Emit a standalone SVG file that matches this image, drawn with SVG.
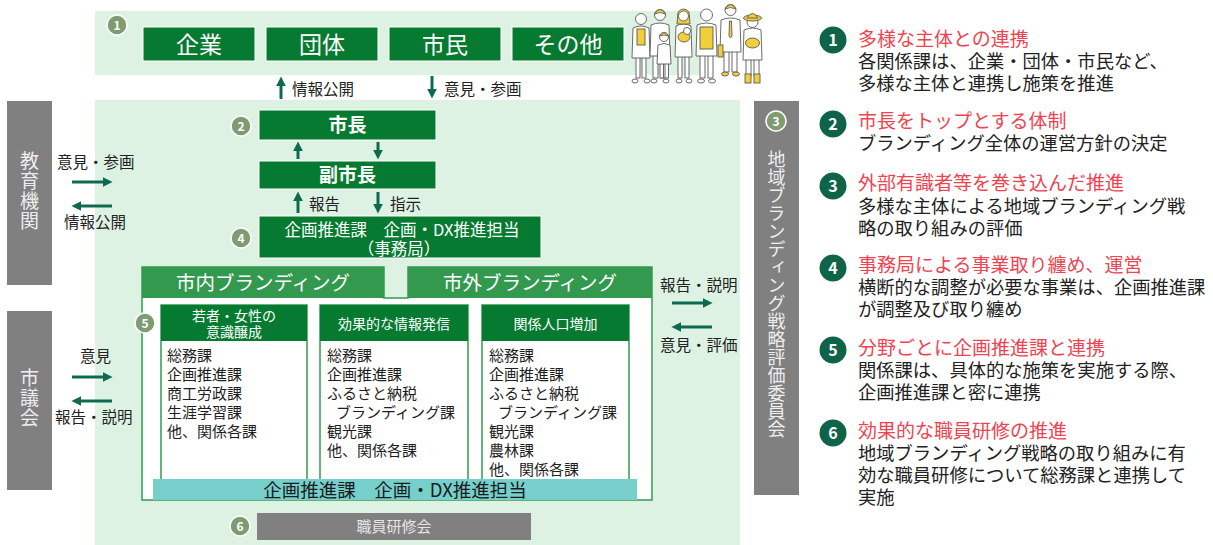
<svg xmlns="http://www.w3.org/2000/svg" width="1213" height="545" viewBox="0 0 1213 545">
  <defs>
    <style>
      text { font-family: "Noto Sans CJK JP", "Noto Sans", sans-serif; }
      .bg { fill: #ddf2e3; }
      .dk { fill: #067a30; stroke: #ffffff; stroke-width: 1; }
      .hd { fill: #33994f; }
      .gray { fill: #808080; }
      .num { fill: #7f9b72; stroke: #ffffff; stroke-width: 1.5; }
      .numt { font-size: 12px; fill: #ffffff; text-anchor: middle; font-weight: 700; }
      .wt { fill: #ffffff; text-anchor: middle; }
      .lbl { fill: #222222; font-size: 15.5px; }
      .vt { fill: #eeeeee; writing-mode: vertical-rl; text-anchor: middle; }
      .col { fill: #ffffff; stroke: #33994f; stroke-width: 1.5; }
      .colh { fill: #067a30; }
      .ct { fill: #1e1e1e; font-size: 15px; }
      .conn { stroke: #0e6a4f; stroke-width: 3; fill: none; marker-end: url(#ah); }
      .rn { fill: #0f6349; }
      .rnt { fill: #ffffff; font-size: 16px; font-weight: 700; text-anchor: middle; }
      .rt { fill: #ef4351; font-size: 19px; }
      .rb { fill: #222222; font-size: 18.3px; }
      .pp { fill: #ffffff; stroke: #5a5a5a; stroke-width: 0.9; }
      .py { fill: #f2cf3a; stroke: #5a5a5a; stroke-width: 0.9; }
    </style>
    <marker id="ah" viewBox="0 0 10 10" refX="0" refY="5" markerWidth="3.2" markerHeight="3.2" orient="auto">
      <path d="M0,0 L10,5 L0,10 z" fill="#0e6a4f"/>
    </marker>
  </defs>

  <rect width="1213" height="545" fill="#ffffff"/>

  <!-- backgrounds -->
  <rect class="bg" x="95" y="11" width="606" height="64"/>
  <rect class="bg" x="95" y="100" width="645" height="445"/>

  <!-- 1: stakeholders -->
  <g id="stakeholders">
    <circle class="num" cx="117" cy="25" r="10"/>
    <text class="numt" x="117" y="29.5">1</text>
    <rect class="dk" x="143" y="27" width="112" height="34"/>
    <text class="wt" x="199" y="53" font-size="23">企業</text>
    <rect class="dk" x="266" y="27" width="112" height="34"/>
    <text class="wt" x="322" y="53" font-size="23">団体</text>
    <rect class="dk" x="389" y="27" width="112" height="34"/>
    <text class="wt" x="445" y="53" font-size="23">市民</text>
    <rect class="dk" x="512" y="27" width="112" height="34"/>
    <text class="wt" x="568" y="53" font-size="23">その他</text>
  </g>

  <!-- citizens illustration -->
  <g id="people">
    <!-- elderly woman -->
    <rect class="pp" x="636" y="56" width="4" height="22"/>
    <rect class="pp" x="642" y="56" width="4" height="22"/>
    <path class="pp" d="M633,28 Q641,24 649,28 L650,58 L632,58 Z"/>
    <rect class="py" x="637" y="29" width="8" height="16"/>
    <circle class="pp" cx="641" cy="19" r="5.5"/>
    <ellipse class="pp" cx="635" cy="81" rx="3" ry="2"/>
    <ellipse class="pp" cx="647" cy="81" rx="3" ry="2"/>
    <!-- father -->
    <rect class="pp" x="653" y="54" width="5" height="24"/>
    <rect class="pp" x="661" y="54" width="5" height="24"/>
    <path class="pp" d="M651,25 Q660,21 669,25 L670,56 L650,56 Z"/>
    <circle class="pp" cx="660" cy="15" r="5.5"/>
    <path class="py" d="M654.5,14 Q660,5 665.5,14 Q660,11 654.5,14 Z"/>
    <ellipse class="pp" cx="654" cy="81" rx="3" ry="2"/>
    <ellipse class="pp" cx="666" cy="81" rx="3" ry="2"/>
    <!-- child -->
    <rect class="pp" x="660" y="62" width="3.5" height="16"/>
    <rect class="pp" x="665" y="62" width="3.5" height="16"/>
    <path class="pp" d="M658,45 Q664,42 670,45 L671,64 L657,64 Z"/>
    <circle class="pp" cx="664" cy="37" r="4.5"/>
    <path class="py" d="M659.5,36 Q664,29 668.5,36 Q664,34 659.5,36 Z"/>
    <!-- mother with baby -->
    <rect class="pp" x="678" y="55" width="4" height="23"/>
    <rect class="pp" x="685" y="55" width="4" height="23"/>
    <path class="pp" d="M676,26 Q683.5,22 691,26 L692,57 L675,57 Z"/>
    <path class="py" d="M678,12 Q683.5,6 689,12 L690,24 L677,24 Z"/>
    <circle class="pp" cx="683.5" cy="16" r="5"/>
    <ellipse class="py" cx="684" cy="37" rx="6" ry="5"/>
    <circle class="pp" cx="687" cy="31" r="3.5"/>
    <ellipse class="pp" cx="679" cy="81" rx="3" ry="2"/>
    <ellipse class="pp" cx="689" cy="81" rx="3" ry="2"/>
    <!-- elderly man -->
    <rect class="pp" x="700" y="54" width="5" height="24"/>
    <rect class="pp" x="708" y="54" width="5" height="24"/>
    <path class="pp" d="M697,25 Q706.5,21 716,25 L717,56 L696,56 Z"/>
    <rect class="py" x="700" y="27" width="13" height="22"/>
    <circle class="pp" cx="706.5" cy="15" r="6"/>
    <ellipse class="pp" cx="701" cy="81" rx="3.5" ry="2"/>
    <ellipse class="pp" cx="712" cy="81" rx="3.5" ry="2"/>
    <!-- office worker -->
    <rect class="pp" x="724" y="50" width="5" height="22"/>
    <rect class="pp" x="732" y="50" width="5" height="22"/>
    <path class="pp" d="M721,20 Q730.5,16 740,20 L741,52 L720,52 Z"/>
    <path class="py" d="M729.5,21 L731.5,21 L732,36 L730.5,38 L729,36 Z"/>
    <rect class="py" x="718" y="45" width="5" height="12"/>
    <circle class="pp" cx="730.5" cy="10" r="5.5"/>
    <path class="py" d="M725,9 Q730.5,0 736,9 Q730.5,6 725,9 Z"/>
    <ellipse class="py" cx="725" cy="74" rx="3.5" ry="2"/>
    <ellipse class="py" cx="736" cy="74" rx="3.5" ry="2"/>
    <!-- farmer -->
    <rect class="pp" x="746" y="58" width="5" height="18"/>
    <rect class="pp" x="754" y="58" width="5" height="18"/>
    <path class="pp" d="M744,30 Q752.5,26 761,30 L762,60 L743,60 Z"/>
    <circle class="pp" cx="752.5" cy="22" r="5.5"/>
    <ellipse class="py" cx="752.5" cy="18" rx="9" ry="3"/>
    <path class="py" d="M747,18 Q752.5,9 758,18 Z"/>
    <ellipse class="py" cx="752.5" cy="43" rx="7" ry="5"/>
    <rect class="py" x="745" y="74" width="6" height="9"/>
    <rect class="py" x="754" y="74" width="6" height="9"/>
  </g>

  <!-- 2: mayor / deputy mayor -->
  <g id="mayor">
    <circle class="num" cx="241" cy="126" r="10"/>
    <text class="numt" x="241" y="130.5">2</text>
    <rect class="dk" x="259" y="110" width="177" height="30"/>
    <text class="wt" x="347.5" y="132" font-size="19" font-weight="700">市長</text>
  </g>
  <g id="deputy-mayor">
    <rect class="dk" x="259" y="161" width="177" height="28"/>
    <text class="wt" x="347.5" y="182" font-size="19" font-weight="700">副市長</text>
  </g>

  <!-- 4: secretariat -->
  <g id="secretariat">
    <circle class="num" cx="241" cy="238" r="10"/>
    <text class="numt" x="241" y="242.5">4</text>
    <rect class="dk" x="259" y="216" width="282" height="42"/>
    <text class="wt" x="402" y="236" font-size="16.5">企画推進課　企画・DX推進担当</text>
    <text class="wt" x="399" y="255" font-size="16.5">（事務局）</text>
  </g>

  <!-- education / council / evaluation committee -->
  <g id="education">
    <rect class="gray" x="7" y="101" width="45" height="184"/>
    <text class="vt" x="29.5" y="191" font-size="19" letter-spacing="1">教育機関</text>
  </g>
  <g id="council">
    <rect class="gray" x="7" y="311" width="45" height="179"/>
    <text class="vt" x="29.5" y="398" font-size="19" letter-spacing="1">市議会</text>
  </g>
  <g id="committee">
    <rect class="gray" x="754" y="101" width="45" height="394"/>
    <circle class="num" cx="776" cy="121" r="10"/>
    <text class="numt" x="776" y="125.5">3</text>
    <text class="vt" x="776.5" y="294" font-size="18">地域ブランディング戦略評価委員会</text>
  </g>

  <!-- 5: branding inside / outside the city -->
  <g id="branding">
    <path d="M142,267 H384 V298 H408 V267 H652 V500 H142 Z" fill="#ffffff" stroke="#33994f" stroke-width="1.5"/>
    <rect class="hd" x="142" y="267" width="242" height="31"/>
    <text class="wt" x="263" y="290" font-size="19.5">市内ブランディング</text>
    <rect class="hd" x="408" y="267" width="244" height="31"/>
    <text class="wt" x="530" y="290" font-size="19.5">市外ブランディング</text>
    <circle class="num" cx="145" cy="323" r="10"/>
    <text class="numt" x="145" y="327.5">5</text>
  </g>

  <g id="col-awareness">
    <rect class="col" x="161" y="305" width="146" height="176"/>
    <rect class="colh" x="161" y="305" width="146" height="36"/>
    <text class="wt" x="234" y="321" font-size="14">若者・女性の</text>
    <text class="wt" x="234" y="337" font-size="14">意識醸成</text>
    <text class="ct" x="167" y="361">総務課</text>
    <text class="ct" x="167" y="380">企画推進課</text>
    <text class="ct" x="167" y="399">商工労政課</text>
    <text class="ct" x="167" y="418">生涯学習課</text>
    <text class="ct" x="167" y="437">他、関係各課</text>
  </g>

  <g id="col-information">
    <rect class="col" x="320" y="305" width="148" height="176"/>
    <rect class="colh" x="320" y="305" width="148" height="36"/>
    <text class="wt" x="394" y="329" font-size="14">効果的な情報発信</text>
    <text class="ct" x="327" y="361">総務課</text>
    <text class="ct" x="327" y="380">企画推進課</text>
    <text class="ct" x="327" y="399">ふるさと納税</text>
    <text class="ct" x="336" y="418">ブランディング課</text>
    <text class="ct" x="327" y="437">観光課</text>
    <text class="ct" x="327" y="456">他、関係各課</text>
  </g>

  <g id="col-population">
    <rect class="col" x="482" y="305" width="147" height="176"/>
    <rect class="colh" x="482" y="305" width="147" height="36"/>
    <text class="wt" x="555.5" y="329" font-size="14">関係人口増加</text>
    <text class="ct" x="489" y="361">総務課</text>
    <text class="ct" x="489" y="380">企画推進課</text>
    <text class="ct" x="489" y="399">ふるさと納税</text>
    <text class="ct" x="498" y="418">ブランディング課</text>
    <text class="ct" x="489" y="437">観光課</text>
    <text class="ct" x="489" y="456">農林課</text>
    <text class="ct" x="489" y="475">他、関係各課</text>
  </g>

  <g id="coordination">
    <rect x="153" y="479" width="484" height="21" fill="#77cfcb"/>
    <text x="395" y="497" font-size="18.5" fill="#1a1a1a" text-anchor="middle">企画推進課　企画・DX推進担当</text>
  </g>

  <!-- 6: staff training -->
  <g id="training">
    <circle class="num" cx="240" cy="526" r="10"/>
    <text class="numt" x="240" y="530.5">6</text>
    <rect class="gray" x="257" y="513" width="274" height="27"/>
    <text x="394" y="532" font-size="15" fill="#e6e6e6" text-anchor="middle">職員研修会</text>
  </g>

  <!-- connectors -->
  <g id="connectors">
    <line class="conn" x1="281" y1="99" x2="281" y2="86"/>
    <line class="conn" x1="432" y1="76" x2="432" y2="89"/>
    <line class="conn" x1="298" y1="159" x2="298" y2="151"/>
    <line class="conn" x1="378" y1="142" x2="378" y2="150"/>
    <line class="conn" x1="298" y1="213" x2="298" y2="201"/>
    <line class="conn" x1="378" y1="192" x2="378" y2="204"/>
    <line class="conn" x1="72" y1="182" x2="103" y2="182"/>
    <line class="conn" x1="112" y1="206" x2="81" y2="206"/>
    <line class="conn" x1="72" y1="377" x2="103" y2="377"/>
    <line class="conn" x1="112" y1="401" x2="81" y2="401"/>
    <line class="conn" x1="672" y1="303" x2="703" y2="303"/>
    <line class="conn" x1="712" y1="327" x2="681" y2="327"/>
    <text class="lbl" x="292" y="95">情報公開</text>
    <text class="lbl" x="444" y="95">意見・参画</text>
    <text class="lbl" x="309" y="210">報告</text>
    <text class="lbl" x="390" y="210">指示</text>
    <text class="lbl" x="57" y="168">意見・参画</text>
    <text class="lbl" x="64" y="228">情報公開</text>
    <text class="lbl" x="80" y="362">意見</text>
    <text class="lbl" x="55" y="423">報告・説明</text>
    <text class="lbl" x="660" y="291">報告・説明</text>
    <text class="lbl" x="660" y="351">意見・評価</text>
  </g>

  <!-- numbered explanations -->
  <g id="notes">
    <circle class="rn" cx="833" cy="40" r="13.5"/>
    <text class="rnt" x="833" y="46">1</text>
    <text class="rt" x="858" y="46">多様な主体との連携</text>
    <text class="rb" x="858" y="68">各関係課は、企業・団体・市民など、</text>
    <text class="rb" x="858" y="90">多様な主体と連携し施策を推進</text>

    <circle class="rn" cx="833" cy="124" r="13.5"/>
    <text class="rnt" x="833" y="130">2</text>
    <text class="rt" x="858" y="128">市長をトップとする体制</text>
    <text class="rb" x="858" y="150">ブランディング全体の運営方針の決定</text>

    <circle class="rn" cx="833" cy="186" r="13.5"/>
    <text class="rnt" x="833" y="192">3</text>
    <text class="rt" x="858" y="190">外部有識者等を巻き込んだ推進</text>
    <text class="rb" x="858" y="213">多様な主体による地域ブランディング戦</text>
    <text class="rb" x="858" y="235">略の取り組みの評価</text>

    <circle class="rn" cx="833" cy="268" r="13.5"/>
    <text class="rnt" x="833" y="274">4</text>
    <text class="rt" x="858" y="272">事務局による事業取り纏め、運営</text>
    <text class="rb" x="858" y="294">横断的な調整が必要な事業は、企画推進課</text>
    <text class="rb" x="858" y="316">が調整及び取り纏め</text>

    <circle class="rn" cx="833" cy="350" r="13.5"/>
    <text class="rnt" x="833" y="356">5</text>
    <text class="rt" x="858" y="355">分野ごとに企画推進課と連携</text>
    <text class="rb" x="858" y="377">関係課は、具体的な施策を実施する際、</text>
    <text class="rb" x="858" y="399">企画推進課と密に連携</text>

    <circle class="rn" cx="833" cy="433" r="13.5"/>
    <text class="rnt" x="833" y="439">6</text>
    <text class="rt" x="858" y="438">効果的な職員研修の推進</text>
    <text class="rb" x="858" y="460">地域ブランディング戦略の取り組みに有</text>
    <text class="rb" x="858" y="482">効な職員研修について総務課と連携して</text>
    <text class="rb" x="858" y="504">実施</text>
  </g>
</svg>
